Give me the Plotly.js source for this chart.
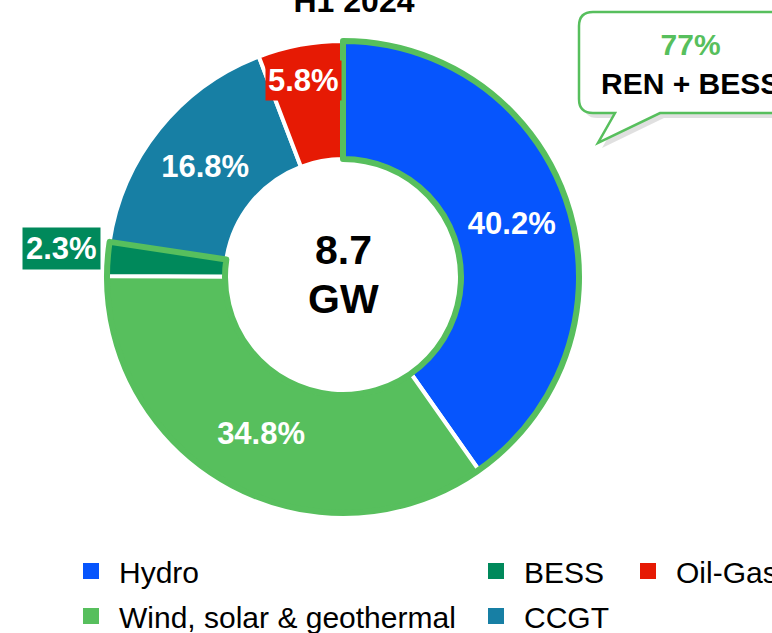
<!DOCTYPE html>
<html>
<head>
<meta charset="utf-8">
<script src="https://cdn.plot.ly/plotly-3.0.1.min.js"></script>
<style>
  html, body { margin: 0; padding: 0; background: #fff; overflow: hidden; }
  #chart { width: 772px; height: 633px; }
</style>
</head>
<body>
<div id="chart"></div>
<script>
// capacity mix, H1 2024 (share of 8.7 GW)
const period = 'H1 2024';
const totalGW = 8.7;
const unit = 'GW';
const labels = ['Hydro', 'Wind, solar & geothermal', 'BESS', 'CCGT', 'Oil-Gas'];
const shares = [40.2, 34.8, 2.3, 16.8, 5.8];
const colors = ['#0655fd', '#57bf5d', '#00895b', '#177fa4', '#e61a04'];
const isRen = [true, true, true, false, false];
const legendCol = ['legend', 'legend', 'legend2', 'legend2', 'legend3'];

const W = 772, H = 633;
const FONT = 'Liberation Sans, Arial, sans-serif';
const GREEN = '#57bf5d';

// pixel -> paper helpers
const px = x => x / W;
const py = y => 1 - y / H;
const pt = (x, y) => px(x) + ',' + py(y);

const renShare = shares.filter((v, i) => isRen[i]).reduce((a, b) => a + b, 0);
const otherShare = shares.filter((v, i) => !isRen[i]).reduce((a, b) => a + b, 0);

const domain = { x: [px(107), px(579)], y: [py(513), py(41)] };
const hole = 0.5;

const mainPie = {
  type: 'pie',
  labels: labels,
  values: shares,
  sort: false,
  direction: 'clockwise',
  hole: hole,
  domain: domain,
  marker: { colors: colors, line: { color: '#ffffff', width: 4 } },
  texttemplate: '%{value:.1f}%',
  textposition: shares.map(v => v > 10 ? 'inside' : 'none'),
  insidetextorientation: 'horizontal',
  textfont: { family: FONT, size: 31, color: '#ffffff', weight: 'bold' },
  hoverinfo: 'label+value',
  showlegend: false
};

// outline around the renewable + storage group
const outlinePie = {
  type: 'pie',
  labels: ['REN + BESS', 'Other'],
  values: [renShare, otherShare],
  sort: false,
  direction: 'clockwise',
  hole: hole,
  domain: domain,
  marker: {
    colors: ['rgba(0,0,0,0)', 'rgba(0,0,0,0)'],
    line: { color: [GREEN, 'rgba(0,0,0,0)'], width: 6 }
  },
  textinfo: 'none',
  hoverinfo: 'skip',
  showlegend: false
};

// legend entries, split over three columns
const legendTraces = labels.map((lab, i) => ({
  type: 'scatter',
  x: [null], y: [null],
  mode: 'markers',
  name: lab,
  legend: legendCol[i],
  legendgroup: 'g' + i,
  marker: { symbol: 'square', size: 16, color: colors[i] },
  hoverinfo: 'skip'
}));

const legendBase = {
  orientation: 'v',
  xanchor: 'left',
  yanchor: 'top',
  y: py(545),
  font: { family: FONT, size: 30, color: '#000' },
  tracegroupgap: 3,
  itemwidth: 46,
  bgcolor: 'rgba(0,0,0,0)'
};

// speech bubble for the REN + BESS callout
const bubble = 'M' + pt(593, 12) + ' L' + pt(800, 12) + ' L' + pt(800, 113) +
  ' L' + pt(660, 113) + ' L' + pt(598, 143) + ' L' + pt(615, 113) +
  ' L' + pt(593, 113) + ' Q' + pt(579, 113) + ' ' + pt(579, 99) +
  ' L' + pt(579, 26) + ' Q' + pt(579, 12) + ' ' + pt(593, 12) + ' Z';
const shadow = 'M' + pt(597, 17) + ' L' + pt(805, 17) + ' L' + pt(805, 118) +
  ' L' + pt(664, 118) + ' L' + pt(602, 148) + ' L' + pt(619, 118) +
  ' L' + pt(597, 118) + ' Q' + pt(584, 118) + ' ' + pt(584, 104) +
  ' L' + pt(584, 31) + ' Q' + pt(584, 17) + ' ' + pt(597, 17) + ' Z';

function label(text, x, y, size, color, extra) {
  return Object.assign({
    text: text, xref: 'paper', yref: 'paper', x: px(x), y: py(y),
    xanchor: 'center', yanchor: 'middle', showarrow: false,
    font: { family: FONT, size: size, color: color }
  }, extra || {});
}

const layout = {
  width: W,
  height: H,
  margin: { l: 0, r: 0, t: 0, b: 0, autoexpand: false },
  paper_bgcolor: '#ffffff',
  plot_bgcolor: '#ffffff',
  font: { family: FONT, color: '#000' },
  title: {
    text: '<b>' + period + '</b>',
    font: { family: FONT, size: 32, color: '#000' },
    x: px(354), xanchor: 'center',
    y: py(12), yanchor: 'bottom'
  },
  xaxis: { visible: false },
  yaxis: { visible: false },
  legend: Object.assign({}, legendBase, { x: px(63) }),
  legend2: Object.assign({}, legendBase, { x: px(468) }),
  legend3: Object.assign({}, legendBase, { x: px(620) }),
  shapes: [
    { type: 'path', xref: 'paper', yref: 'paper', path: shadow,
      fillcolor: 'rgba(0,0,0,0.12)', line: { width: 0 } },
    { type: 'path', xref: 'paper', yref: 'paper', path: bubble,
      fillcolor: '#ffffff', line: { color: GREEN, width: 2.5 } }
  ],
  annotations: [
    label('<b>' + totalGW + '</b>', 343, 250, 41, '#000'),
    label('<b>' + unit + '</b>', 343, 299, 41, '#000'),
    label('<b>' + shares[4].toFixed(1) + '%</b>', 303, 80, 31, '#fff',
      { bgcolor: colors[4], borderpad: 2 }),
    label('<b>' + shares[2].toFixed(1) + '%</b>', 62, 248, 31, '#fff',
      { bgcolor: colors[2], borderpad: 3 }),
    label('<b><span style="color:' + GREEN + '">' + Math.round(renShare) + '%</span><br>REN + BESS</b>',
      690, 64, 30, '#000')
  ]
};

Plotly.newPlot('chart', [mainPie, outlinePie].concat(legendTraces), layout, { displayModeBar: false, responsive: false });
</script>
</body>
</html>
